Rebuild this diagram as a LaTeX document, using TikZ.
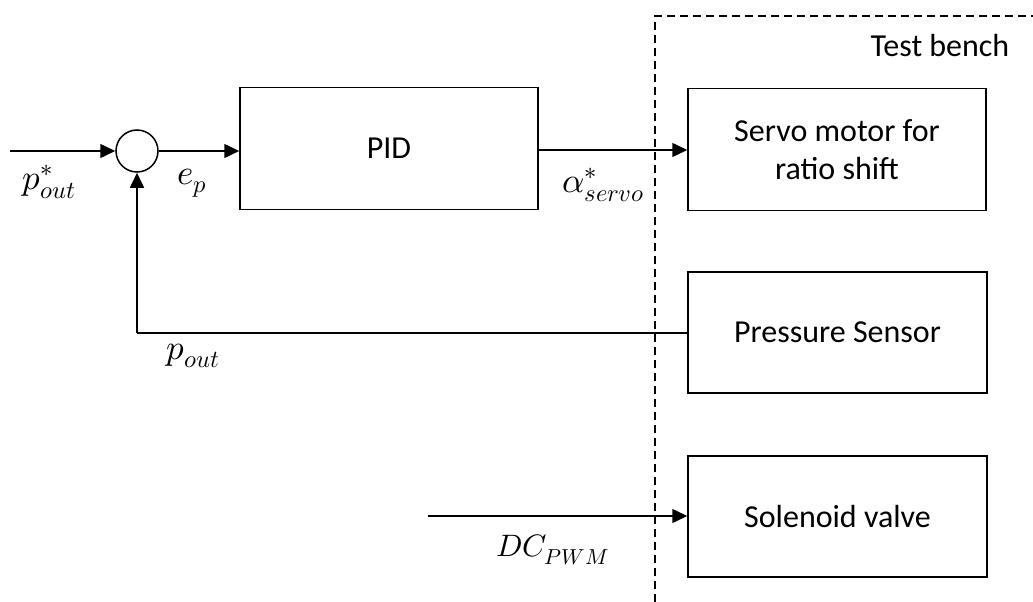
\documentclass[tikz,border=0pt]{standalone}
\usepackage{fontspec}
\usepackage{unicode-math}
\setmainfont{Carlito}
\setmathfont{Latin Modern Math}
\usetikzlibrary{arrows.meta}
\begin{document}
\begin{tikzpicture}[x=1pt,y=-1pt,
  blk/.style={draw, line width=1.5pt, minimum width=298pt, minimum height=122pt, inner sep=0pt, font=\fontsize{32}{38}\selectfont, align=center},
  sumc/.style={draw, circle, line width=1.5pt, minimum size=42pt, inner sep=0pt},
  conn/.style={line width=1.5pt, -{Triangle[length=15pt,width=14pt]}},
  plain/.style={line width=1.5pt},
  lbl/.style={font=\fontsize{32}{38}\selectfont},
  mlbl/.style={font=\fontsize{35}{40}\selectfont, inner sep=1pt},
  bench/.style={line width=1.3pt, dash pattern=on 8pt off 5pt}]
\useasboundingbox (0,0) rectangle (1033,602);
% nodes
\node[sumc] (sum) at (137,151) {};
\node[blk] (pid) at (389,148.5) {PID};
\node[blk] (servo) at (837,149.5) {Servo motor for\\ratio shift};
\node[blk, minimum width=299pt, minimum height=121pt] (press) at (837.5,332.5) {Pressure Sensor};
\node[blk, minimum width=299pt, minimum height=121pt] (sol) at (837.5,516.5) {Solenoid valve};
\coordinate (in) at (10,151);
\coordinate (corner) at (137,333);
\coordinate (dcin) at (428,516);
% test bench boundary
\draw[bench] (655,602) -- (655,16) -- (1033,16);
\node[lbl] (tb) at (940,46) {Test bench};
% connectors
\draw[conn] (in) -- (sum.west);
\draw[conn] (sum.east) -- (pid.west |- sum.east);
\draw[conn] (pid.east |- 0,150) -- (servo.west |- 0,150);
\draw[plain] (press.west |- corner) -- (corner);
\draw[conn] (corner) -- (sum.south);
\draw[conn] (dcin) -- (sol.west |- dcin);
% labels
\node[mlbl] (lpin) at (49,182) {$p^{*}_{out}$};
\node[mlbl] (lep) at (192,183) {$e_{p}$};
\node[mlbl] (lal) at (603,185) {$\alpha^{*}_{servo}$};
\node[mlbl] (lpo) at (193,356) {$p_{out}$};
\node[mlbl, font=\fontsize{31}{36}\selectfont] (ldc) at (553,550) {$DC_{PWM}$};
\end{tikzpicture}
\end{document}
